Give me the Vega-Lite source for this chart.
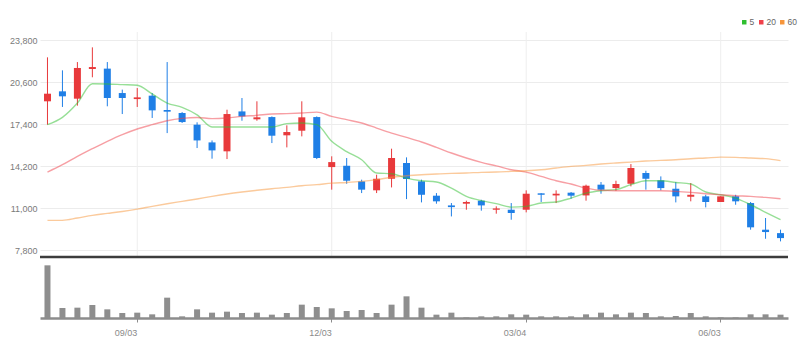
{
  "$schema": "https://vega.github.io/schema/vega-lite/v6.json",
  "autosize": {"type": "none"},
  "padding": {"left": 40, "top": 32, "right": 17, "bottom": 40},
  "width": 748,
  "height": 286,
  "background": "white",
  "config": {"view": {"stroke": null}, "font": "Liberation Sans Narrow, Liberation Sans, sans-serif"},
  "data": {"values": [
    {"i":0,"d":"07/23","o":19130,"h":22480,"l":17350,"c":19710,"v":158000,"m5":17350,"m20":13740,"m60":10060},
    {"i":1,"d":"07/30","o":19890,"h":21490,"l":18700,"c":19510,"v":30000,"m5":17910,"m20":14300,"m60":10060},
    {"i":2,"d":"08/06","o":19330,"h":22120,"l":18800,"c":21670,"v":31000,"m5":19000,"m20":14940,"m60":10240},
    {"i":3,"d":"08/13","o":21590,"h":23240,"l":20960,"c":21740,"v":39000,"m5":20470,"m20":15520,"m60":10440},
    {"i":4,"d":"08/20","o":21620,"h":22120,"l":18750,"c":19380,"v":26000,"m5":20450,"m20":16080,"m60":10590},
    {"i":5,"d":"08/27","o":19760,"h":20020,"l":18160,"c":19380,"v":15000,"m5":20400,"m20":16590,"m60":10740},
    {"i":6,"d":"09/03","o":19300,"h":20140,"l":18700,"c":19430,"v":16000,"m5":20350,"m20":17020,"m60":10920},
    {"i":7,"d":"09/10","o":19560,"h":19760,"l":17860,"c":18440,"v":11000,"m5":19690,"m20":17350,"m60":11130},
    {"i":8,"d":"09/17","o":18470,"h":22120,"l":16710,"c":18340,"v":61000,"m5":19000,"m20":17650,"m60":11330},
    {"i":9,"d":"09/24","o":18240,"h":18310,"l":17480,"c":17550,"v":5000,"m5":18670,"m20":17830,"m60":11510},
    {"i":10,"d":"10/01","o":17350,"h":17530,"l":15570,"c":16150,"v":26000,"m5":18100,"m20":17900,"m60":11690},
    {"i":11,"d":"10/08","o":16000,"h":16150,"l":14760,"c":15390,"v":16000,"m5":17170,"m20":17810,"m60":11890},
    {"i":12,"d":"10/15","o":15320,"h":18490,"l":14730,"c":18160,"v":19000,"m5":17170,"m20":17860,"m60":12070},
    {"i":13,"d":"10/22","o":18360,"h":19380,"l":17650,"c":17980,"v":15000,"m5":17170,"m20":17980,"m60":12220},
    {"i":14,"d":"10/29","o":17760,"h":19130,"l":17650,"c":17910,"v":16000,"m5":17170,"m20":18060,"m60":12350},
    {"i":15,"d":"11/05","o":17930,"h":17980,"l":15950,"c":16510,"v":10000,"m5":17170,"m20":18160,"m60":12470},
    {"i":16,"d":"11/12","o":16540,"h":17300,"l":15620,"c":16790,"v":15000,"m5":17430,"m20":18190,"m60":12570},
    {"i":17,"d":"11/19","o":16890,"h":19130,"l":16460,"c":17910,"v":40000,"m5":17480,"m20":18240,"m60":12700},
    {"i":18,"d":"11/26","o":17930,"h":17980,"l":14730,"c":14810,"v":33000,"m5":17350,"m20":18310,"m60":12780},
    {"i":19,"d":"12/03","o":14120,"h":14940,"l":12400,"c":14500,"v":29000,"m5":16080,"m20":17980,"m60":12900},
    {"i":20,"d":"12/10","o":14220,"h":14810,"l":12850,"c":13080,"v":21000,"m5":15300,"m20":17730,"m60":12950},
    {"i":21,"d":"12/17","o":13030,"h":13160,"l":12140,"c":12400,"v":24000,"m5":14680,"m20":17480,"m60":13030},
    {"i":22,"d":"12/24","o":12350,"h":13540,"l":12140,"c":13230,"v":15000,"m5":13670,"m20":17090,"m60":13160},
    {"i":23,"d":"12/31","o":13230,"h":15520,"l":12570,"c":14810,"v":40000,"m5":13610,"m20":16710,"m60":13340},
    {"i":24,"d":"01/07","o":14430,"h":14860,"l":11680,"c":13210,"v":65000,"m5":13280,"m20":16380,"m60":13460},
    {"i":25,"d":"01/14","o":13030,"h":13160,"l":11430,"c":12010,"v":31000,"m5":13080,"m20":16030,"m60":13540},
    {"i":26,"d":"01/21","o":11940,"h":12140,"l":11330,"c":11510,"v":10000,"m5":12980,"m20":15620,"m60":13590},
    {"i":27,"d":"01/28","o":11200,"h":11380,"l":10360,"c":11070,"v":16000,"m5":12520,"m20":15190,"m60":13640},
    {"i":28,"d":"02/04","o":11330,"h":11560,"l":10870,"c":11460,"v":2000,"m5":11890,"m20":14810,"m60":13670},
    {"i":29,"d":"02/11","o":11560,"h":11630,"l":10800,"c":11200,"v":5000,"m5":11560,"m20":14480,"m60":13720},
    {"i":30,"d":"02/18","o":10870,"h":11130,"l":10570,"c":10970,"v":5000,"m5":11340,"m20":14210,"m60":13740},
    {"i":31,"d":"02/25","o":10870,"h":11380,"l":10110,"c":10620,"v":11000,"m5":11070,"m20":13920,"m60":13790},
    {"i":32,"d":"03/04","o":10870,"h":12350,"l":10670,"c":12090,"v":10000,"m5":11130,"m20":13740,"m60":13840},
    {"i":33,"d":"03/11","o":12120,"h":12140,"l":11460,"c":12010,"v":5000,"m5":11380,"m20":13410,"m60":13920},
    {"i":34,"d":"03/18","o":11960,"h":12350,"l":11380,"c":12090,"v":5000,"m5":11460,"m20":13080,"m60":14050},
    {"i":35,"d":"03/25","o":12170,"h":12220,"l":11710,"c":11940,"v":5000,"m5":11760,"m20":12830,"m60":14170},
    {"i":36,"d":"04/01","o":11960,"h":12780,"l":11560,"c":12700,"v":11000,"m5":12140,"m20":12520,"m60":14250},
    {"i":37,"d":"04/08","o":12780,"h":12980,"l":12090,"c":12400,"v":16000,"m5":12320,"m20":12350,"m60":14350},
    {"i":38,"d":"04/15","o":12520,"h":13080,"l":12320,"c":12830,"v":11000,"m5":12400,"m20":12320,"m60":14430},
    {"i":39,"d":"04/22","o":12850,"h":14350,"l":12650,"c":14050,"v":16000,"m5":12780,"m20":12320,"m60":14500},
    {"i":40,"d":"04/29","o":13670,"h":13840,"l":12400,"c":13230,"v":15000,"m5":13080,"m20":12320,"m60":14580},
    {"i":41,"d":"05/06","o":13110,"h":13410,"l":12350,"c":12520,"v":5000,"m5":13080,"m20":12320,"m60":14630},
    {"i":42,"d":"05/13","o":12470,"h":12980,"l":11430,"c":11890,"v":6000,"m5":12950,"m20":12270,"m60":14680},
    {"i":43,"d":"05/20","o":11860,"h":12900,"l":11510,"c":12010,"v":15000,"m5":12830,"m20":12190,"m60":14760},
    {"i":44,"d":"05/27","o":11890,"h":12010,"l":11050,"c":11460,"v":5000,"m5":12220,"m20":12090,"m60":14810},
    {"i":45,"d":"06/03","o":11460,"h":11890,"l":11460,"c":11890,"v":2000,"m5":12010,"m20":12010,"m60":14880},
    {"i":46,"d":"06/10","o":11890,"h":12010,"l":11250,"c":11510,"v":2000,"m5":11760,"m20":11940,"m60":14860},
    {"i":47,"d":"06/17","o":11380,"h":11460,"l":9350,"c":9530,"v":11000,"m5":11250,"m20":11890,"m60":14810},
    {"i":48,"d":"06/24","o":9350,"h":10240,"l":8660,"c":9170,"v":11000,"m5":10670,"m20":11810,"m60":14760},
    {"i":49,"d":"07/01","o":9090,"h":9350,"l":8460,"c":8710,"v":10000,"m5":10110,"m20":11710,"m60":14610}
  ]},
  "layer": [
    {
      "layer": [
        {
          "transform": [{"filter": "indexof(['09/03','12/03','03/04','06/03'], datum.d) >= 0"}],
          "mark": {"type": "rule", "color": "#eeeeee", "strokeWidth": 1},
          "encoding": {
            "x": {"field": "d", "type": "ordinal", "scale": {"domain": ["07/23","07/30","08/06","08/13","08/20","08/27","09/03","09/10","09/17","09/24","10/01","10/08","10/15","10/22","10/29","11/05","11/12","11/19","11/26","12/03","12/10","12/17","12/24","12/31","01/07","01/14","01/21","01/28","02/04","02/11","02/18","02/25","03/04","03/11","03/18","03/25","04/01","04/08","04/15","04/22","04/29","05/06","05/13","05/20","05/27","06/03","06/10","06/17","06/24","07/01"], "paddingInner": 0, "paddingOuter": 0}},
            "y": {"datum": 7270, "type": "quantitative", "scale": {"domain": [7270, 24410], "range": [225, 0], "nice": false, "zero": false},
              "axis": {"title": null, "values": [7800, 11000, 14200, 17400, 20600, 23800], "labelExpr": "format(datum.value, ',')", "grid": true, "gridColor": "#ececec", "domain": false, "ticks": false, "labelPadding": 3, "labelColor": "#7a7a7a", "labelFontSize": 9}},
            "y2": {"datum": 24410}
          }
        },
        {
          "mark": {"type": "rule", "strokeWidth": 1},
          "encoding": {
            "x": {"field": "d", "type": "ordinal", "sort": null},
            "y": {"field": "l", "type": "quantitative"},
            "y2": {"field": "h"},
            "color": {"condition": {"test": "datum.c >= datum.o", "value": "#e8393b"}, "value": "#1f7fe6"}
          }
        },
        {
          "mark": {"type": "bar", "size": 7},
          "encoding": {
            "x": {"field": "d", "type": "ordinal", "sort": null},
            "y": {"field": "o", "type": "quantitative"},
            "y2": {"field": "c"},
            "color": {"condition": {"test": "datum.c >= datum.o", "value": "#e8393b"}, "value": "#1f7fe6"}
          }
        },
        {
          "transform": [{"fold": ["m5", "m20", "m60"], "as": ["ma", "val"]}],
          "mark": {"type": "line", "strokeWidth": 1.4, "opacity": 0.5, "interpolate": "monotone"},
          "encoding": {
            "x": {"field": "d", "type": "ordinal", "sort": null},
            "y": {"field": "val", "type": "quantitative"},
            "order": {"field": "i"},
            "color": {"field": "ma", "type": "nominal",
              "scale": {"domain": ["m5", "m20", "m60"], "range": ["#2fbf2f", "#f0404a", "#f7953a"]},
              "legend": {"orient": "none", "legendX": 700, "legendY": -14, "direction": "horizontal", "title": null,
                "symbolType": "square", "symbolSize": 20, "symbolOpacity": 1, "symbolStrokeWidth": 0,
                "labelFontSize": 8.5, "labelColor": "#666666", "labelOffset": 1, "columnPadding": 2, "gridAlign": "none",
                "labelExpr": "replace(datum.label, 'm', '')",
                "encode": {"symbols": {"update": {"fill": {"scale": "color", "field": "value"}}}}}}
          }
        },
        {
          "data": {"values": [{"edge": "bottom"}]},
          "mark": {"type": "rule", "color": "#3c3c3c", "strokeWidth": 2.5},
          "encoding": {
            "y": {"datum": 7270, "type": "quantitative"}
          }
        }
      ]
    },
    {
      "mark": {"type": "bar", "size": 6, "color": "#8e8e8e"},
      "encoding": {
        "x": {"field": "d", "type": "ordinal", "sort": null,
          "axis": {"title": null, "values": ["09/03", "12/03", "03/04", "06/03"], "bandPosition": 0.5, "grid": false, "labelAngle": 0,
            "domainColor": "#8c8c8c", "domainWidth": 2.5, "tickColor": "#8c8c8c", "tickSize": 4, "tickWidth": 1,
            "labelColor": "#8a8a8a", "labelFontSize": 9, "labelPadding": 10}},
        "y": {"field": "v", "type": "quantitative", "scale": {"domain": [0, 168000], "range": [286, 230], "nice": false}, "axis": null}
      }
    }
  ],
  "resolve": {"scale": {"y": "independent"}}
}
